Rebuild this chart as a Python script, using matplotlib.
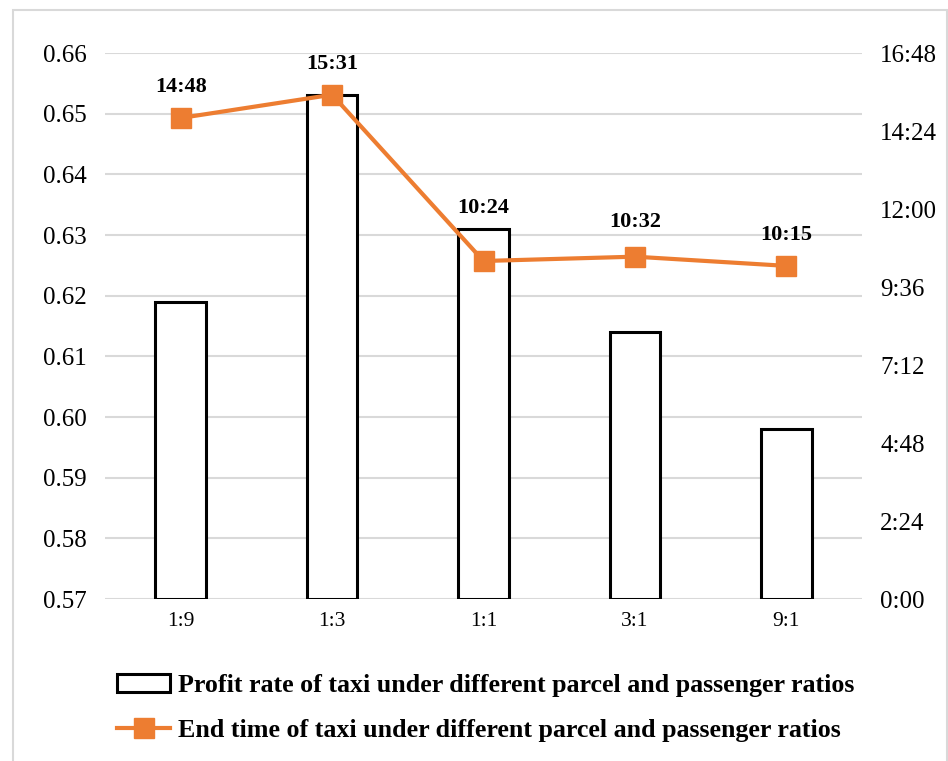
import matplotlib
matplotlib.use("Agg")
import matplotlib.pyplot as plt
from matplotlib.patches import Rectangle
from matplotlib.lines import Line2D
from matplotlib.ticker import FuncFormatter

plt.rcParams['font.family'] = ['Liberation Serif', 'DejaVu Serif']

# parcel : passenger ratios
ratios = ['1:9', '1:3', '1:1', '3:1', '9:1']
profit_rate = [0.619, 0.653, 0.631, 0.614, 0.598]
end_time = ['14:48', '15:31', '10:24', '10:32', '10:15']

right_ticks = ['0:00', '2:24', '4:48', '7:12', '9:36', '12:00', '14:24', '16:48']


def to_minutes(s):
    h, m = s.split(':')
    return int(h) * 60 + int(m)


def fmt_time(v, pos):
    v = int(round(v))
    return '%d:%02d' % (v // 60, v % 60)


end_min = [to_minutes(t) for t in end_time]
orange = '#ED7D31'
grid_c = '#D9D9D9'

fig = plt.figure(figsize=(9.48, 7.61), dpi=100)
ax = fig.add_axes([105 / 948, 1 - 599 / 761, 757 / 948, 546 / 761])

x = list(range(len(ratios)))
ax.bar(x, [p - 0.57 for p in profit_rate], bottom=0.57, width=0.335,
       facecolor='white', edgecolor='black', linewidth=2.2, zorder=3)
ax.set_xlim(-0.5, len(ratios) - 0.5)
ax.set_ylim(0.57, 0.66)
ax.set_yticks([0.57 + 0.01 * i for i in range(10)])
ax.yaxis.set_major_formatter(FuncFormatter(lambda v, p: '%.2f' % v))
ax.set_xticks(x)
ax.set_xticklabels(ratios)
ax.grid(axis='y', color=grid_c, linewidth=1.5, zorder=0)
ax.set_axisbelow(True)
for s in ax.spines.values():
    s.set_visible(False)
ax.tick_params(axis='y', length=0, labelsize=18, pad=13)
ax.tick_params(axis='x', length=0, labelsize=15.5, pad=9)

ax2 = ax.twinx()
ax2.set_ylim(0, 1008)
ax2.set_yticks([to_minutes(t) for t in right_ticks])
ax2.yaxis.set_major_formatter(FuncFormatter(fmt_time))
ax2.tick_params(axis='y', length=0, labelsize=18, pad=13)
for s in ax2.spines.values():
    s.set_visible(False)
ax2.plot(x, end_min, color=orange, linewidth=3, marker='s', markersize=15,
         zorder=5)
# labels above the markers; the 1:1 one is lifted clear of its bar
label_dy = [22, 22, 38, 25, 22]
for xi, yi, lab, dy in zip(x, end_min, end_time, label_dy):
    ax2.annotate(lab, (xi, yi), xytext=(0, dy), textcoords='offset points',
                 ha='center', va='center', fontsize=16, fontweight='bold')

# legend below the plot
handles = [
    Rectangle((0, 0), 1, 1, facecolor='white', edgecolor='black', linewidth=2.2),
    Line2D([], [], color=orange, linewidth=3, marker='s', markersize=15),
]
labels = ['Profit rate of taxi under different parcel and passenger ratios',
          'End time of taxi under different parcel and passenger ratios']
fig.legend(handles, labels, loc='upper left', bbox_to_anchor=(117 / 948, 1 - 674 / 761),
           frameon=False, prop={'weight': 'bold', 'size': 18.7}, handlelength=2.05,
           handletextpad=0.3, labelspacing=0.82, borderaxespad=0, borderpad=0)

# outer frame
fig.patches.append(Rectangle((13 / 948, -0.1), 934 / 948, 1.1 - 10 / 761,
                             transform=fig.transFigure, fill=False,
                             edgecolor='#D9D9D9', linewidth=1.5))

fig.savefig('out.png', dpi=100)
